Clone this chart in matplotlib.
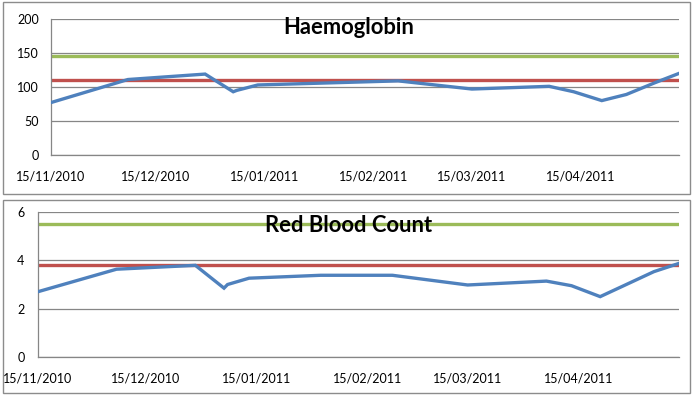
import matplotlib
matplotlib.use("Agg")
import matplotlib.pyplot as plt
import matplotlib.dates as mdates
from matplotlib.patches import Rectangle
import pandas as pd

# Blood test results
test_dates = ["2010-11-15", "2010-12-07", "2010-12-29", "2011-01-06", "2011-01-07",
              "2011-01-13", "2011-02-02", "2011-02-22", "2011-03-15", "2011-04-06",
              "2011-04-13", "2011-04-21", "2011-04-28", "2011-05-06", "2011-05-13"]
haemoglobin = [77, 111, 119, 93, 95, 103, 106, 109, 97, 101, 93, 80, 89, 106, 120]
red_blood_count = [2.70, 3.63, 3.79, 2.85, 3.00, 3.26, 3.38, 3.38, 2.98, 3.14, 2.95, 2.50, 2.98, 3.53, 3.87]

# Reference range limits (upper, lower)
hb_limits = [145, 110]
rbc_limits = [5.5, 3.8]

hb_yticks = [0, 50, 100, 150, 200]
rbc_yticks = [0, 2, 4, 6]

BLUE = "#4F81BD"
RED = "#C0504D"
GREEN = "#9BBB59"
GREY = "#868686"

plt.rcParams["font.family"] = ["Lato", "DejaVu Sans"]


def draw_panel(fig, rect, dates, values, limits, yticks, title, title_y, ypad):
    ax = fig.add_axes(rect)
    ax.axhline(limits[0], color=GREEN, lw=2.4, zorder=2)
    ax.axhline(limits[1], color=RED, lw=2.4, zorder=2)
    ax.plot(dates, values, color=BLUE, lw=2.4, zorder=3, solid_joinstyle="miter")

    ax.set_xlim(dates.min(), dates.max())
    ax.set_ylim(yticks[0], yticks[-1])
    ax.set_yticks(yticks)
    ax.xaxis.set_major_locator(mdates.MonthLocator(bymonthday=15))
    ax.xaxis.set_major_formatter(mdates.DateFormatter("%d/%m/%Y"))

    ax.grid(axis="y", color=GREY, lw=0.9, zorder=1)
    for side in ["top", "right"]:
        ax.spines[side].set_visible(False)
    for side in ["left", "bottom"]:
        ax.spines[side].set_color(GREY)
        ax.spines[side].set_linewidth(0.9)
    ax.tick_params(axis="x", length=0, pad=11, labelsize=9)
    ax.tick_params(axis="y", length=0, pad=ypad, labelsize=9)

    fig.text(0.5, title_y, title, ha="center", va="center",
             fontsize=15.8, fontweight="bold", zorder=10)
    return ax


def plot_blood_results():
    dates = pd.to_datetime(test_dates)
    fig = plt.figure(figsize=(6.98, 3.96), dpi=100)
    W, H = 698, 396

    # chart frames (pixel coordinates from the top-left)
    for x0, y0, x1, y1 in [(3, 2, 690, 194), (3, 200, 690, 393)]:
        fig.patches.append(Rectangle((x0 / W, 1 - y1 / H), (x1 - x0) / W, (y1 - y0) / H,
                                     transform=fig.transFigure, fill=False,
                                     edgecolor="#8C8C8C", lw=1.0))

    draw_panel(fig, [50.7 / W, 1 - 155 / H, (679 - 50.7) / W, 136 / H],
               dates, haemoglobin, hb_limits, hb_yticks, "Haemoglobin", 1 - 28 / H, 8.4)
    draw_panel(fig, [37.7 / W, 1 - 357.3 / H, (679 - 37.7) / W, 145.6 / H],
               dates, red_blood_count, rbc_limits, rbc_yticks, "Red Blood Count", 1 - 226 / H, 9.4)

    fig.savefig("out.png", dpi=100)


if __name__ == "__main__":
    plot_blood_results()
